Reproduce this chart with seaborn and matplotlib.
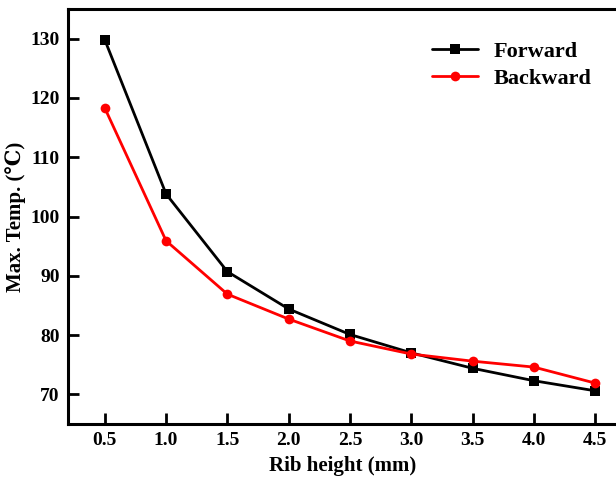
import numpy as np
import pandas as pd
import seaborn as sns
import matplotlib.pyplot as plt

# Rib height (mm) and max temperature for each flow direction
rib_height = [0.5, 1.0, 1.5, 2.0, 2.5, 3.0, 3.5, 4.0, 4.5]
forward = [129.8, 103.8, 90.7, 84.4, 80.1, 77.0, 74.4, 72.3, 70.6]
backward = [118.3, 95.9, 86.9, 82.7, 79.0, 76.8, 75.6, 74.6, 71.9]

df = pd.DataFrame({
    'Rib height': rib_height * 2,
    'Temp': forward + backward,
    'Direction': ['Forward'] * len(rib_height) + ['Backward'] * len(rib_height),
})

sns.set_theme(style="ticks")
plt.rcParams['font.family'] = ['Liberation Serif', 'DejaVu Serif']
plt.rcParams['font.weight'] = 'bold'
plt.rcParams['text.color'] = 'black'
plt.rcParams['axes.labelcolor'] = 'black'
plt.rcParams['xtick.color'] = 'black'
plt.rcParams['ytick.color'] = 'black'
plt.rcParams['axes.edgecolor'] = 'black'

fig = plt.figure(figsize=(6.16, 4.79), dpi=100)
ax = fig.add_axes([68 / 616, 1 - 424 / 479, 1 - 68 / 616 + 0.002, (424 - 9) / 479])

sns.lineplot(data=df, x='Rib height', y='Temp', hue='Direction', style='Direction',
             palette={'Forward': 'black', 'Backward': '#ff0000'},
             markers={'Forward': 's', 'Backward': 'o'}, dashes=False,
             markersize=7, markeredgewidth=0, linewidth=2, ax=ax)

ax.set_xlim(0.2, 4.68)
ax.set_ylim(65, 135)
ax.set_xticks(rib_height)
ax.set_yticks([70, 80, 90, 100, 110, 120, 130])
ax.tick_params(direction='in', length=8, width=2, labelsize=14, pad=6)
for lbl in ax.get_xticklabels() + ax.get_yticklabels():
    lbl.set_fontweight('bold')

for side in ['left', 'top', 'bottom']:
    ax.spines[side].set_linewidth(2.2)
ax.spines['right'].set_visible(False)

ax.set_xlabel('Rib height (mm)', fontsize=15, fontweight='bold', labelpad=5)
ax.set_ylabel('Max. Temp. (\u2103)', fontsize=15, fontweight='bold', labelpad=3)

leg = ax.legend(loc='upper right', bbox_to_anchor=(0.99, 0.97), frameon=False,
                fontsize=16, handlelength=2.1, handletextpad=0.7, labelspacing=0.3)
for t in leg.get_texts():
    t.set_fontweight('bold')

fig.savefig('out.png', dpi=100)
